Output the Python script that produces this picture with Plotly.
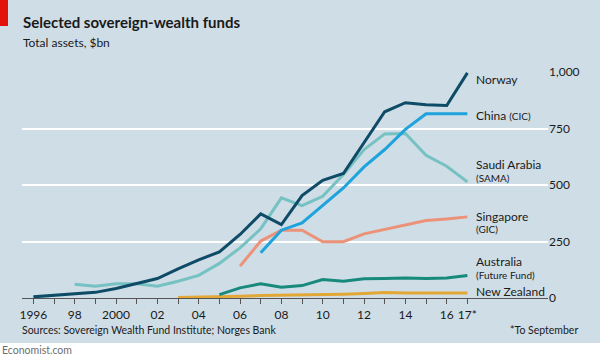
import plotly.graph_objects as go

years_norway = list(range(1996, 2018))
norway = [5, 12, 18, 25, 42, 64, 86, 129, 169, 204, 281, 372, 325, 453, 521, 551, 687, 824, 864, 855, 852, 996]

years_saudi = list(range(1998, 2018))
saudi = [61, 52, 63, 63, 52, 74, 100, 153, 222, 306, 443, 409, 450, 546, 657, 726, 728, 631, 583, 514]

years_china = list(range(2007, 2018))
china = [200, 300, 332, 411, 487, 580, 657, 746, 815, 815, 815]

years_singapore = list(range(2006, 2018))
singapore = [141, 252, 300, 300, 249, 249, 284, 303, 322, 343, 350, 359]

years_australia = list(range(2005, 2018))
australia = [15, 45, 63, 48, 55, 82, 74, 85, 86, 89, 86, 89, 100]

years_nz = list(range(2003, 2018))
new_zealand = [2, 3, 5, 8, 11, 12, 13, 15, 17, 20, 24, 22, 21, 21, 22]

tick_years = list(range(1996, 2018))
tick_text = ["1996", "", "98", "", "2000", "", "02", "", "04", "", "06", "", "08", "",
             "10", "", "12", "", "14", "", "16", "17*"]
y_ticks = [0, 250, 500, 750, 1000]
y_tick_text = ["0", "250", "500", "750", "1,000"]

FONT = "Lato"
BG = "#cfdde6"
TXT = "#1a1a1a"

series = [
    (years_nz, new_zealand, "#e3a735"),
    (years_australia, australia, "#178a7c"),
    (years_singapore, singapore, "#ec9279"),
    (years_saudi, saudi, "#76c1c1"),
    (years_china, china, "#1ea3dc"),
    (years_norway, norway, "#0e4b67"),
]

fig = go.Figure()
for xs, ys, c in series:
    fig.add_trace(go.Scatter(x=xs, y=ys, mode="lines",
                             line=dict(color=c, width=3), showlegend=False,
                             hoverinfo="skip"))

labels = [
    (967, "Norway"),
    (807, "China <span style='font-size:10px'>(CIC)</span>"),
    (591, "Saudi Arabia"),
    (533, "<span style='font-size:10px'>(SAMA)</span>"),
    (361, "Singapore"),
    (307, "<span style='font-size:10px'>(GIC)</span>"),
    (161, "Australia"),
    (104, "<span style='font-size:10px'>(Future Fund)</span>"),
    (29, "New Zealand"),
]
annotations = []
for yv, t in labels:
    annotations.append(dict(x=2017.3, y=yv, xref="x", yref="y", text=t,
                            showarrow=False, xanchor="left", yanchor="middle",
                            font=dict(family=FONT, size=12, color=TXT)))

# title / notes in pixel-ish paper coordinates
def py(p):
    return (298 - p) / 226.0

def px(p):
    return (p - 22) / 526.0

annotations += [
    dict(x=px(21), y=py(22.5), xref="paper", yref="paper", xanchor="left", yanchor="middle",
         text="<b>Selected sovereign-wealth funds</b>", showarrow=False,
         font=dict(family=FONT, size=15, color=TXT)),
    dict(x=px(21), y=py(42), xref="paper", yref="paper", xanchor="left", yanchor="middle",
         text="Total assets, $bn", showarrow=False,
         font=dict(family=FONT, size=12, color=TXT)),
    dict(x=px(20), y=py(330), xref="paper", yref="paper", xanchor="left", yanchor="middle",
         text="Sources: Sovereign Wealth Fund Institute; Norges Bank", showarrow=False,
         font=dict(family=FONT, size=10.5, color=TXT)),
    dict(x=px(580), y=py(330), xref="paper", yref="paper", xanchor="right", yanchor="middle",
         text="*To September", showarrow=False,
         font=dict(family=FONT, size=10.5, color=TXT)),
    dict(x=px(0), y=py(350), xref="paper", yref="paper", xanchor="left", yanchor="middle",
         text="Economist.com", showarrow=False,
         font=dict(family=FONT, size=10.5, color="#6e6e6e")),
]

shapes = [
    dict(type="rect", xref="paper", yref="paper", x0=px(0), x1=px(600), y0=py(343), y1=py(362),
         fillcolor="white", line=dict(width=0), layer="below"),
    dict(type="rect", xref="paper", yref="paper", x0=px(0), x1=px(8), y0=py(0), y1=py(26),
         fillcolor="#e3120b", line=dict(width=0), layer="above"),
]

fig.update_layout(
    width=600, height=360,
    margin=dict(l=22, r=52, t=72, b=62, autoexpand=False),
    paper_bgcolor=BG, plot_bgcolor=BG,
    annotations=annotations, shapes=shapes,
    showlegend=False,
    xaxis=dict(range=[1995.45, 2020.9], tickmode="array", tickvals=tick_years,
               ticktext=tick_text, showgrid=False, zeroline=False, automargin=False,
               showline=True, linecolor="#555555", linewidth=1.3,
               ticks="outside", ticklen=5, tickcolor="#555555", tickwidth=1,
               tickfont=dict(family=FONT, size=12, color=TXT), fixedrange=True),
    yaxis=dict(range=[0, 1000], tickmode="array", tickvals=y_ticks, ticktext=y_tick_text,
               side="right", showgrid=True, gridcolor="white", gridwidth=1.6,
               zeroline=False, showline=False, ticks="", automargin=False,
               tickfont=dict(family=FONT, size=12, color=TXT), fixedrange=True),
)

fig.write_html("out.html", config={"displayModeBar": False},
               post_script="document.body.style.margin='0';document.body.style.overflow='hidden';")
